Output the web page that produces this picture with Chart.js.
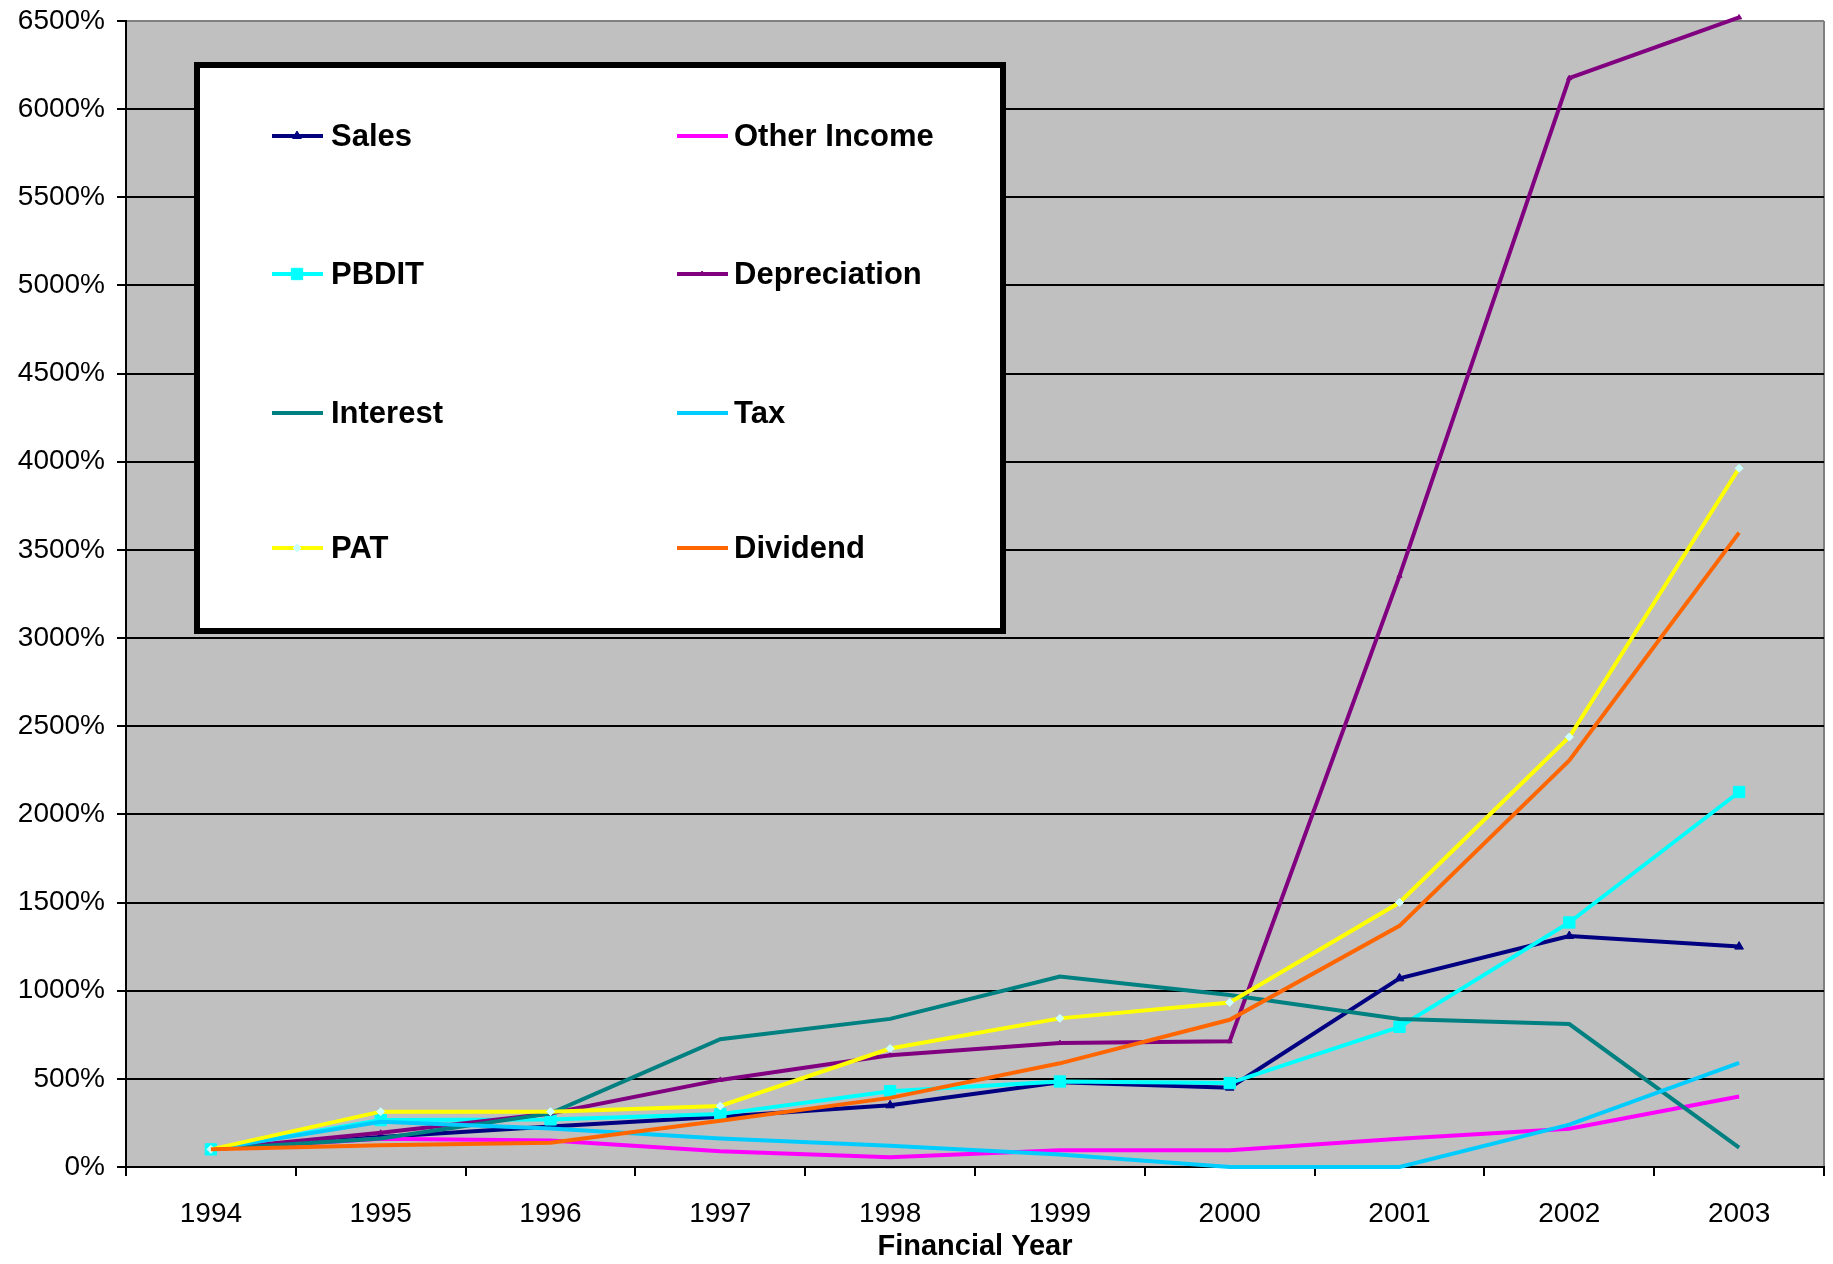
<!DOCTYPE html>
<html>
<head>
<meta charset="utf-8">
<script src="https://cdn.jsdelivr.net/npm/chart.js@4/dist/chart.umd.min.js"></script>
<style>
  html, body { margin: 0; padding: 0; background: #fff; }
  canvas { display: block; }
</style>
</head>
<body>
<canvas id="chartCanvas" width="1833" height="1264"></canvas>
<script>
// growth over 1994 base, in percent
const years = ["1994", "1995", "1996", "1997", "1998", "1999", "2000", "2001", "2002", "2003"];

const sales        = [100, 170, 230, 285, 350, 480, 450, 1070, 1310, 1250];
const otherIncome  = [100, 160, 150, 90, 55, 95, 95, 160, 217, 400];
const pbdit        = [100, 266, 270, 300, 430, 485, 476, 795, 1387, 2127];
const depreciation = [100, 194, 304, 494, 634, 703, 713, 3353, 6176, 6520];
const interest     = [100, 162, 304, 725, 840, 1080, 975, 840, 811, 110];
const tax          = [100, 257, 219, 162, 121, 71, 0, 0, 240, 590];
const pat          = [100, 314, 314, 346, 672, 843, 933, 1500, 2439, 3963];
const dividend     = [100, 124, 137, 262, 392, 588, 835, 1368, 2306, 3598];

const FONT = "'Liberation Sans', Arial, sans-serif";

function series(label, data, color, style, radius, pointColor) {
    return {
        label: label,
        data: data,
        borderColor: color,
        backgroundColor: pointColor || color,
        borderWidth: 4,
        pointStyle: style || false,
        pointRadius: style ? radius : 0,
        pointBackgroundColor: pointColor || color,
        pointBorderColor: pointColor || color,
        pointBorderWidth: 1,
        tension: 0,
        fill: false,
        clip: false
    };
}

let datasets = [
    series("Sales", sales, "#000080", "triangle", 5),
    series("Other Income", otherIncome, "#FF00FF"),
    series("PBDIT", pbdit, "#00FFFF", "rect", 8),
    series("Depreciation", depreciation, "#800080", "triangle", 3),
    series("Interest", interest, "#008080"),
    series("Tax", tax, "#00CCFF"),
    series("PAT", pat, "#FFFF00", "rectRot", 4, "#CCFFFF"),
    series("Dividend", dividend, "#FF6600")
];
// excel puts later series on top
datasets.forEach((d, i) => { d.order = datasets.length - i; });

// grey plot area and border
const plotBack = {
    id: "plotBack",
    beforeDraw(chart) {
        let a = chart.chartArea;
        let ctx = chart.ctx;
        ctx.save();
        ctx.fillStyle = "#C0C0C0";
        ctx.fillRect(a.left, a.top, a.right - a.left, a.bottom - a.top);
        ctx.strokeStyle = "#808080";
        ctx.lineWidth = 2;
        ctx.beginPath();
        ctx.moveTo(a.right, a.top);
        ctx.lineTo(a.right, a.bottom);
        ctx.stroke();
        ctx.restore();
    }
};

// boxed two-column legend inside the plot
const boxLegend = {
    id: "boxLegend",
    afterDraw(chart) {
        let ctx = chart.ctx;
        ctx.save();
        ctx.fillStyle = "#fff";
        ctx.fillRect(197, 65, 806, 566);
        ctx.strokeStyle = "#000";
        ctx.lineWidth = 6;
        ctx.strokeRect(197, 65, 806, 566);

        let lineX = [272, 677];
        let textX = [331, 734];
        let rowY = [136, 274, 413, 548];
        chart.data.datasets.forEach((d, i) => {
            let col = i % 2;
            let y = rowY[Math.floor(i / 2)];
            ctx.strokeStyle = d.borderColor;
            ctx.lineWidth = 4;
            ctx.beginPath();
            ctx.moveTo(lineX[col], y);
            ctx.lineTo(lineX[col] + 51, y);
            ctx.stroke();
            if (d.pointStyle) {
                ctx.fillStyle = d.pointBackgroundColor;
                ctx.strokeStyle = d.pointBorderColor;
                ctx.lineWidth = 1;
                Chart.helpers.drawPoint(ctx, {pointStyle: d.pointStyle, radius: d.pointRadius, rotation: 0, borderWidth: 1}, lineX[col] + 25, y);
            }
            ctx.fillStyle = "#000";
            ctx.font = "bold 31px " + FONT;
            ctx.textBaseline = "middle";
            ctx.textAlign = "left";
            ctx.fillText(d.label, textX[col], y + 1);
        });
        ctx.restore();
    }
};

new Chart(document.getElementById("chartCanvas"), {
    type: "line",
    data: { labels: years, datasets: datasets },
    options: {
        responsive: false,
        animation: false,
        devicePixelRatio: 1,
        layout: { padding: { top: 21, right: 6, left: 0, bottom: 0 } },
        plugins: {
            legend: { display: false },
            tooltip: { enabled: false }
        },
        scales: {
            x: {
                offset: true,
                afterFit: s => { s.height = 97; },
                grid: {
                    offset: true,
                    drawOnChartArea: false,
                    drawTicks: true,
                    tickLength: 9,
                    color: "#000",
                    lineWidth: 2
                },
                border: { color: "#000", width: 2 },
                ticks: {
                    color: "#000",
                    padding: 21,
                    maxRotation: 0,
                    font: { family: FONT, size: 28 }
                },
                title: {
                    display: true,
                    text: "Financial Year",
                    color: "#000",
                    padding: { top: 0, bottom: 0 },
                    font: { family: FONT, size: 29, weight: "bold" }
                }
            },
            y: {
                min: 0,
                max: 6500,
                afterFit: s => { s.width = 126; s.paddingTop = 0; s.paddingBottom = 0; },
                grid: {
                    color: c => (c.tick && c.tick.value === 6500) ? "#808080" : "#000",
                    tickColor: "#000",
                    lineWidth: 2,
                    tickLength: 9
                },
                border: { color: "#000", width: 2 },
                ticks: {
                    stepSize: 500,
                    color: "#000",
                    padding: 12,
                    font: { family: FONT, size: 28 },
                    callback: v => v + "%"
                }
            }
        }
    },
    plugins: [plotBack, boxLegend]
});
</script>
</body>
</html>
